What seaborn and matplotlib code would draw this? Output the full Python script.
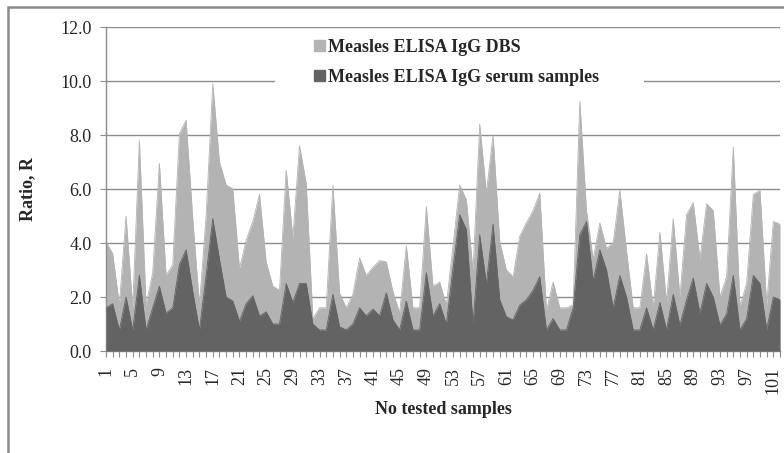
import numpy as np
import pandas as pd
import matplotlib
matplotlib.use('Agg')
import matplotlib.pyplot as plt
import seaborn as sns
from matplotlib.patches import Patch, Rectangle

# valores (Ratio, R) para as 102 amostras
dbs = [4.05, 3.6, 1.7, 5.0, 1.6, 7.8, 1.7, 2.9, 6.95, 2.8,
       3.2, 8.05, 8.55, 4.9, 1.7, 5.0, 9.9, 7.0, 6.15, 6.0,
       3.05, 4.1, 4.8, 5.8, 3.3, 2.4, 2.25, 6.7, 4.2, 7.6,
       6.2, 1.2, 1.6, 1.6, 6.15, 2.15, 1.6, 2.1, 3.45, 2.8,
       3.1, 3.35, 3.3, 2.2, 1.4, 3.9, 1.6, 1.6, 5.35, 2.4,
       2.55, 1.7, 3.9, 6.15, 5.6, 2.95, 8.4, 5.85, 8.0, 4.05,
       3.0, 2.75, 4.25, 4.75, 5.2, 5.85, 1.5, 2.55, 1.6, 1.6,
       1.7, 9.25, 5.2, 3.4, 4.75, 3.8, 4.0, 5.95, 3.7, 1.6,
       1.6, 3.6, 1.6, 4.4, 1.8, 4.9, 2.0, 5.05, 5.5, 3.4,
       5.45, 5.2, 2.0, 2.75, 7.55, 1.65, 2.5, 5.8, 5.95, 1.7,
       4.8, 4.7]
serum = [1.6, 1.75, 0.78, 2.0, 0.78, 2.8, 0.78, 1.6, 2.4, 1.4,
         1.6, 3.2, 3.75, 2.2, 0.78, 2.8, 4.9, 3.4, 2.0, 1.85,
         1.1, 1.75, 2.05, 1.3, 1.45, 1.0, 1.0, 2.5, 1.8, 2.5,
         2.5, 1.0, 0.78, 0.78, 2.1, 0.9, 0.78, 1.0, 1.6, 1.3,
         1.55, 1.3, 2.15, 1.15, 0.78, 1.85, 0.78, 0.78, 2.9, 1.3,
         1.75, 1.0, 3.05, 5.05, 4.5, 1.0, 4.3, 2.5, 4.7, 1.9,
         1.27, 1.15, 1.7, 1.9, 2.25, 2.75, 0.78, 1.2, 0.78, 0.78,
         1.6, 4.3, 4.8, 2.6, 3.75, 3.0, 1.6, 2.8, 2.0, 0.78,
         0.78, 1.6, 0.78, 1.8, 0.78, 2.1, 0.96, 1.9, 2.7, 1.4,
         2.5, 2.0, 0.96, 1.37, 2.8, 0.78, 1.2, 2.8, 2.5, 0.8,
         2.0, 1.9]
amostras = list(range(1, len(dbs) + 1))
rotulos_y = [0, 2, 4, 6, 8, 10, 12]

dados = pd.DataFrame({'Amostra': amostras, 'DBS': dbs, 'Serum': serum})

sns.set_style('white')
plt.rcParams['font.family'] = ['Liberation Serif', 'DejaVu Serif']

cor_dbs = '#b3b3b3'
cor_serum = '#636363'
cor_grade = '#8c8c8c'

fig = plt.figure(figsize=(7.84, 4.53), dpi=100)
ax = fig.add_axes([106 / 784, 1 - 351 / 453, 674 / 784, 324 / 453])

# áreas sobrepostas (DBS atrás, soro na frente)
ax.fill_between(dados['Amostra'], 0, dados['DBS'], color=cor_dbs, lw=0, zorder=2)
sns.lineplot(data=dados, x='Amostra', y='DBS', color=cor_dbs, lw=0.6, ax=ax, zorder=2)
ax.fill_between(dados['Amostra'], 0, dados['Serum'], color=cor_serum, lw=0, zorder=3)
sns.lineplot(data=dados, x='Amostra', y='Serum', color=cor_serum, lw=0.6, ax=ax, zorder=3)

ax.set_xlim(1, len(dbs))
ax.set_ylim(0, 12)
ax.set_yticks(rotulos_y)
ax.set_yticklabels([f'{v:.1f}' for v in rotulos_y], fontsize=13)
ax.set_xticks(amostras)
ax.set_xticklabels([str(a) if (a - 1) % 4 == 0 else '' for a in amostras],
                   rotation=90, fontsize=13)
ax.tick_params(axis='both', which='major', direction='out', length=4.5,
               width=0.8, color=cor_grade, left=True, bottom=True)
ax.tick_params(axis='y', pad=6)
ax.tick_params(axis='x', pad=7)

ax.grid(False)
for v in rotulos_y[1:]:
    ax.axhline(v, color=cor_grade, lw=1.0, zorder=0.5)

# fundo branco da legenda cobrindo a linha de grade
ax.axhspan(9.6, 11.7, xmin=(275 - 106) / 674, xmax=(644 - 106) / 674,
           color='white', lw=0, zorder=0.8)

for lado in ['top', 'right']:
    ax.spines[lado].set_visible(False)
for lado in ['left', 'bottom']:
    ax.spines[lado].set_color(cor_grade)
    ax.spines[lado].set_linewidth(1.0)

ax.set_xlabel('')
ax.set_ylabel('')
fig.text(28 / 784, 1 - 189 / 453, 'Ratio, R', rotation=90, ha='center', va='center',
         fontsize=13, fontweight='bold')
fig.text(443 / 784, 1 - 410 / 453, 'No tested samples', ha='center', va='center',
         fontsize=13, fontweight='bold')

handles = [Patch(color=cor_dbs), Patch(color=cor_serum)]
leg = fig.legend(handles, ['Measles ELISA IgG DBS', 'Measles ELISA IgG serum samples'],
                 loc='upper left', bbox_to_anchor=(314 / 784, 1 - 39 / 453),
                 frameon=False, prop={'weight': 'bold', 'size': 13},
                 handlelength=0.6, handleheight=0.6, handletextpad=0.15,
                 labelspacing=0.72, borderpad=0, borderaxespad=0)

# moldura externa do gráfico
fig.add_artist(Rectangle((8 / 784, -0.2), 1.2, 1 - 7 / 453 + 0.2, transform=fig.transFigure,
                         fill=False, edgecolor='#8a8a8a', lw=1.8))

fig.savefig('out.png', dpi=100)
